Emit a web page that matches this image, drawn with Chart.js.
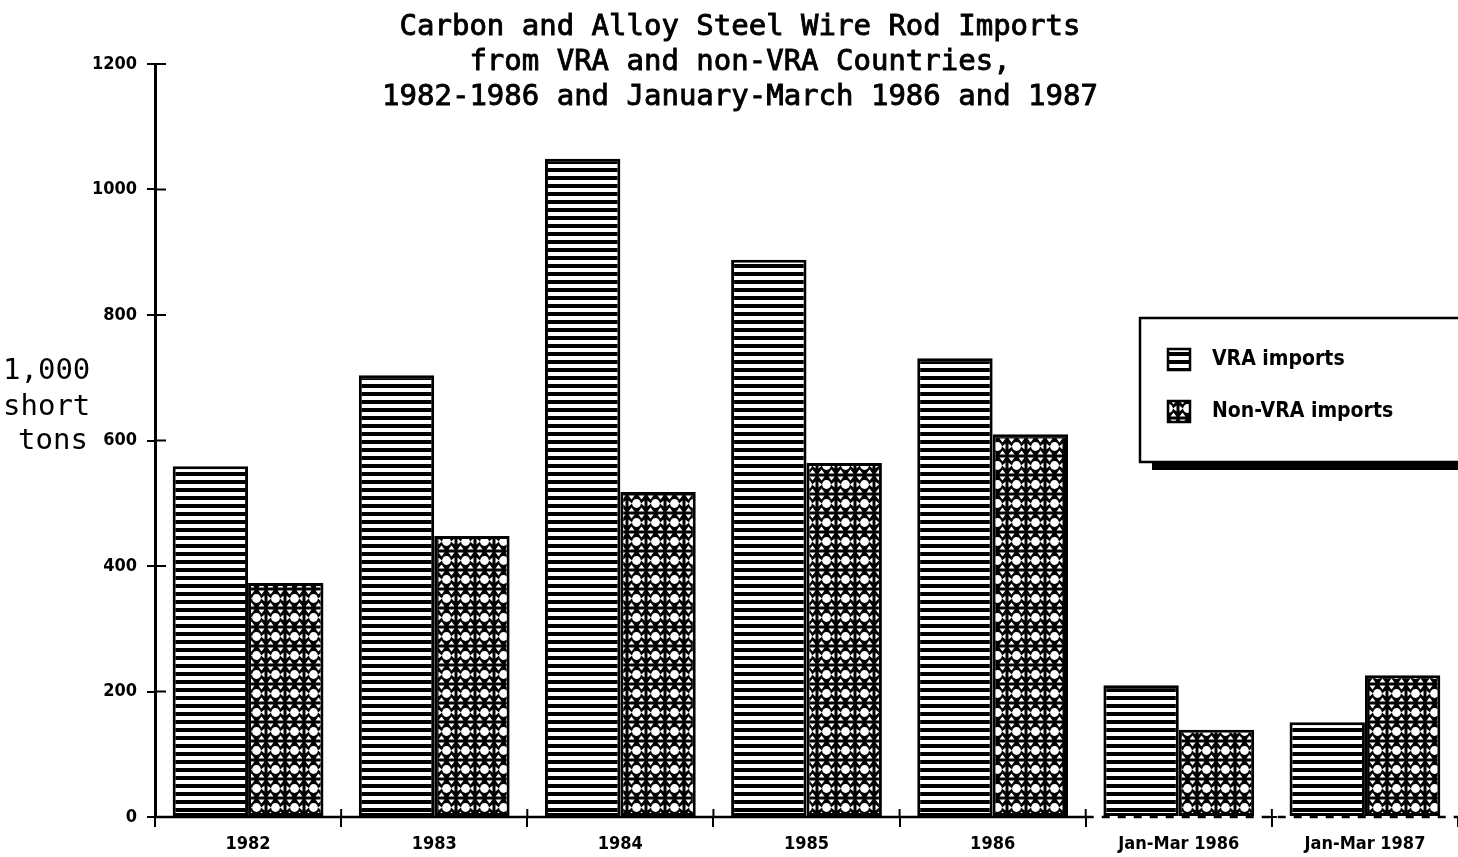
<!DOCTYPE html>
<html>
<head>
<meta charset="utf-8">
<script src="https://cdn.jsdelivr.net/npm/chart.js@4/dist/chart.umd.min.js"></script>
<style>
html,body{margin:0;padding:0;background:#fff;}
canvas{display:block;}
</style>
</head>
<body>
<canvas id="c" width="1458" height="857"></canvas>
<script>
const categories = ["1982", "1983", "1984", "1985", "1986", "Jan-Mar 1986", "Jan-Mar 1987"];
const vraImports = [559, 704, 1049, 888, 731, 210, 151];
const nonVraImports = [373, 448, 518, 564, 610, 139, 226];
const yTicks = [0, 200, 400, 600, 800, 1000, 1200];
const seriesLabels = ["VRA imports", "Non-VRA imports"];
const titleLines = ["Carbon and Alloy Steel Wire Rod Imports", "from VRA and non-VRA Countries,", "1982-1986 and January-March 1986 and 1987"];
const yTitleLines = ["1,000", "short", "tons"];

const FAM = '"DejaVu Sans Condensed", "DejaVu Sans", sans-serif';
const ctx0 = document.getElementById('c').getContext('2d');

function stripePattern() {
  const t = document.createElement('canvas');
  t.width = 8; t.height = 8;
  const g = t.getContext('2d');
  g.fillStyle = '#fff'; g.fillRect(0, 0, 8, 8);
  g.fillStyle = '#000'; g.fillRect(0, 0, 8, 4);
  return ctx0.createPattern(t, 'repeat');
}
function meshPattern() {
  const s = 19;
  const t = document.createElement('canvas');
  t.width = s; t.height = s;
  const g = t.getContext('2d');
  g.fillStyle = '#000'; g.fillRect(0, 0, s, s);
  g.fillStyle = '#fff';
  g.beginPath(); g.arc(s / 2, s / 2, 4.4, 0, Math.PI * 2); g.fill();
  const tri = (pts) => { g.beginPath(); g.moveTo(pts[0], pts[1]); g.lineTo(pts[2], pts[3]); g.lineTo(pts[4], pts[5]); g.closePath(); g.fill(); };
  tri([1.5, 1.5, 7.5, 1.5, 4.5, 5.5]);
  tri([11.5, 1.5, 17.5, 1.5, 14.5, 5.5]);
  tri([1.5, 17.5, 7.5, 17.5, 4.5, 13.5]);
  tri([11.5, 17.5, 17.5, 17.5, 14.5, 13.5]);
  tri([1.5, 6.5, 1.5, 12.5, 5, 9.5]);
  tri([17.5, 6.5, 17.5, 12.5, 14, 9.5]);
  return ctx0.createPattern(t, 'repeat');
}
const fills = [stripePattern(), meshPattern()];

const decor = {
  id: 'decor',
  afterDraw(chart) {
    const c = chart.ctx;
    const x = chart.scales.x, y = chart.scales.y;
    const area = chart.chartArea;
    c.save();
    // title
    c.fillStyle = '#000';
    c.strokeStyle = '#000';
    c.lineWidth = 0.9;
    c.font = '29px "DejaVu Sans Mono"';
    c.textAlign = 'center';
    c.textBaseline = 'middle';
    titleLines.forEach((t, i) => { c.fillText(t, 740, 27 + i * 35); c.strokeText(t, 740, 27 + i * 35); });
    // y title
    c.textAlign = 'left';
    const yx = [3, 3, 18];
    const yy = [371, 407, 441];
    yTitleLines.forEach((t, i) => c.fillText(t, yx[i], yy[i]));
    // inner y ticks
    c.lineWidth = 2;
    yTicks.forEach(v => {
      const py = y.getPixelForValue(v);
      c.beginPath(); c.moveTo(area.left, py); c.lineTo(area.left + 11, py); c.stroke();
    });
    // x axis line: solid then dashed
    const bx = x.getPixelForValue(4.5);
    c.lineWidth = 2.5;
    c.beginPath(); c.moveTo(area.left, area.bottom); c.lineTo(bx, area.bottom); c.stroke();
    c.setLineDash([8, 8]);
    c.beginPath(); c.moveTo(bx, area.bottom); c.lineTo(area.right, area.bottom); c.stroke();
    c.setLineDash([]);
    // x separators crossing above axis
    c.lineWidth = 2;
    for (let i = 1; i < categories.length; i++) {
      const px = x.getPixelForValue(i - 0.5);
      c.beginPath(); c.moveTo(px, area.bottom - 8); c.lineTo(px, area.bottom); c.stroke();
      c.beginPath(); c.moveTo(px - 5, area.bottom); c.lineTo(px + 5, area.bottom); c.stroke();
    }
    // legend box
    const lx = 1140, ly = 318, lb = 462;
    c.fillStyle = '#fff';
    c.fillRect(lx, ly, 1458 - lx, lb - ly);
    c.lineWidth = 2.5;
    c.beginPath(); c.moveTo(1458, ly); c.lineTo(lx, ly); c.lineTo(lx, lb); c.lineTo(1458, lb); c.stroke();
    c.fillStyle = '#000';
    c.fillRect(1152, lb, 1458 - 1152, 8);
    const sy = [349, 401];
    seriesLabels.forEach((lab, i) => {
      c.fillStyle = fills[i];
      c.fillRect(1168, sy[i], 22, 21);
      c.lineWidth = 2.5;
      c.strokeRect(1168, sy[i], 22, 21);
      c.fillStyle = '#000';
      c.font = 'bold 21px ' + FAM;
      c.textAlign = 'left';
      c.textBaseline = 'middle';
      c.fillText(lab, 1212, sy[i] + 11);
    });
    c.restore();
  }
};

new Chart(ctx0, {
  type: 'bar',
  data: {
    labels: categories,
    datasets: [
      { label: seriesLabels[0], data: vraImports, backgroundColor: fills[0], borderColor: '#000', borderWidth: 3, borderSkipped: false, categoryPercentage: 0.81, barPercentage: 1.0 },
      { label: seriesLabels[1], data: nonVraImports, backgroundColor: fills[1], borderColor: '#000', borderWidth: 3, borderSkipped: false, categoryPercentage: 0.81, barPercentage: 1.0 }
    ]
  },
  options: {
    responsive: false,
    animation: false,
    layout: { padding: { top: 64, right: 0, left: 0, bottom: 0 } },
    plugins: { legend: { display: false }, title: { display: false }, tooltip: { enabled: false } },
    scales: {
      x: {
        offset: true,
        grid: { offset: true, drawOnChartArea: false, tickLength: 10, color: '#000', lineWidth: 2 },
        border: { display: false },
        ticks: { color: '#000', font: { family: FAM, weight: 'bold', size: 18 }, padding: 7, maxRotation: 0 },
        afterFit(s) { s.height = 40; }
      },
      y: {
        min: 0, max: 1200,
        afterBuildTicks(s) { s.ticks = yTicks.map(v => ({ value: v })); },
        grid: { drawOnChartArea: false, tickLength: 8, color: '#000', lineWidth: 2 },
        border: { display: true, color: '#000', width: 3 },
        ticks: { color: '#000', font: { family: FAM, weight: 'bold', size: 18 }, padding: 10, callback: (v) => String(v) },
        afterFit(s) { s.width = 155; }
      }
    }
  },
  plugins: [decor]
});
</script>
</body>
</html>
